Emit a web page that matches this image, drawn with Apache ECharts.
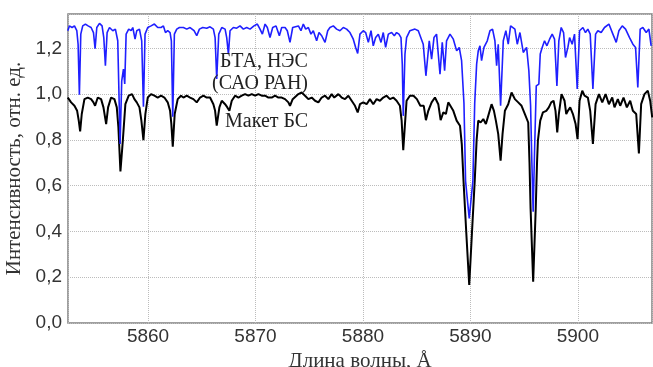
<!DOCTYPE html>
<html>
<head>
<meta charset="utf-8">
<script src="https://cdn.jsdelivr.net/npm/echarts@6/dist/echarts.min.js"></script>
<style>
  html, body { margin: 0; padding: 0; background: #fff; }
  #main { width: 653px; height: 367px; }
</style>
</head>
<body>
<div id="main"></div>
<script>
// БТА, НЭС (САО РАН) — длины волн и интенсивности
var blueWave = [5852.53,5852.68,5852.93,5853.15,5853.37,5853.49,5853.61,5853.74,5853.92,5854.17,5854.42,5854.70,5854.92,5855.07,5855.23,5855.48,5855.72,5855.88,5856.03,5856.19,5856.41,5856.72,5856.96,5857.18,5857.40,5857.55,5857.71,5857.83,5857.96,5858.20,5858.42,5858.58,5858.79,5858.95,5859.20,5859.41,5859.57,5859.72,5859.97,5860.28,5860.59,5860.90,5861.21,5861.43,5861.62,5861.83,5862.05,5862.17,5862.30,5862.45,5862.67,5862.92,5863.29,5863.60,5863.91,5864.28,5864.53,5864.78,5865.09,5865.46,5865.77,5866.08,5866.24,5866.39,5866.58,5866.86,5867.17,5867.32,5867.48,5867.63,5867.94,5868.25,5868.56,5868.87,5869.18,5869.49,5869.86,5870.17,5870.42,5870.64,5870.89,5871.10,5871.35,5871.60,5871.91,5872.22,5872.44,5872.75,5872.96,5873.21,5873.46,5873.99,5874.23,5874.45,5874.67,5874.92,5875.16,5875.38,5875.69,5875.91,5876.16,5876.47,5876.72,5876.93,5877.24,5877.55,5877.86,5878.17,5878.48,5878.79,5879.10,5879.32,5879.51,5879.72,5880.03,5880.25,5880.50,5880.75,5880.96,5881.18,5881.43,5881.68,5881.89,5882.11,5882.36,5882.67,5882.92,5883.13,5883.35,5883.54,5883.66,5883.75,5883.91,5884.06,5884.37,5884.84,5885.15,5885.61,5885.86,5886.17,5886.39,5886.61,5886.85,5887.17,5887.38,5887.60,5887.78,5888.10,5888.41,5888.72,5888.96,5889.18,5889.40,5889.55,5889.89,5890.23,5890.40,5890.58,5890.73,5890.89,5891.04,5891.26,5891.57,5891.82,5892.06,5892.28,5892.44,5892.59,5892.81,5893.06,5893.30,5893.52,5893.74,5894.14,5894.36,5894.61,5894.92,5895.23,5895.44,5895.60,5895.72,5895.84,5895.97,5896.13,5896.37,5896.50,5896.68,5896.90,5897.12,5897.37,5897.61,5897.83,5898.05,5898.23,5898.45,5898.67,5898.85,5899.07,5899.23,5899.47,5899.69,5899.94,5900.16,5900.47,5900.71,5900.93,5901.15,5901.40,5901.65,5901.86,5902.17,5902.48,5902.89,5903.26,5903.57,5903.82,5904.13,5904.44,5904.81,5905.12,5905.37,5905.58,5905.80,5906.05,5906.36,5906.61,5906.82];
var blueInt = [1.277,1.298,1.291,1.298,1.277,1.218,0.997,1.262,1.298,1.306,1.298,1.291,1.269,1.199,1.291,1.309,1.298,1.247,1.124,1.269,1.291,1.277,1.284,1.233,0.782,1.058,1.109,1.044,1.262,1.284,1.277,1.291,1.240,1.277,1.284,1.233,0.945,1.262,1.291,1.298,1.306,1.291,1.291,1.298,1.269,1.277,1.269,1.233,0.901,1.262,1.284,1.291,1.291,1.284,1.291,1.277,1.255,1.284,1.291,1.288,1.294,1.284,1.247,1.066,1.262,1.291,1.284,1.247,1.175,1.277,1.291,1.288,1.298,1.284,1.291,1.284,1.298,1.306,1.284,1.262,1.306,1.291,1.247,1.291,1.298,1.255,1.291,1.291,1.277,1.226,1.291,1.298,1.277,1.306,1.284,1.291,1.262,1.277,1.233,1.269,1.255,1.226,1.277,1.291,1.298,1.284,1.277,1.291,1.284,1.269,1.240,1.204,1.178,1.262,1.277,1.269,1.226,1.277,1.211,1.247,1.262,1.226,1.269,1.204,1.262,1.269,1.255,1.269,1.262,1.247,1.131,0.905,1.175,1.247,1.277,1.284,1.277,1.218,1.080,1.233,1.153,1.247,1.262,1.087,1.226,1.102,1.233,1.262,1.240,1.189,1.204,1.146,0.960,0.620,0.457,0.620,0.960,1.131,1.189,1.211,1.146,1.204,1.233,1.277,1.284,1.233,1.124,1.218,0.949,1.233,1.277,1.218,1.298,1.284,1.218,1.269,1.182,1.204,1.102,0.950,0.700,0.486,0.750,1.036,1.044,1.175,1.204,1.233,1.211,1.240,1.262,1.240,1.036,1.233,1.291,1.269,1.160,1.204,1.247,1.218,1.262,1.022,1.277,1.291,1.269,1.284,1.262,1.022,1.262,1.277,1.269,1.291,1.306,1.262,1.226,1.277,1.298,1.284,1.247,1.218,1.204,1.029,1.284,1.291,1.269,1.284,1.211];

// Макет БС
var blackWave = [5852.53,5852.84,5853.15,5853.40,5853.55,5853.68,5853.83,5854.08,5854.39,5854.70,5854.92,5855.07,5855.32,5855.63,5855.85,5856.10,5856.28,5856.56,5856.87,5857.09,5857.24,5857.43,5857.65,5857.89,5858.20,5858.51,5858.73,5858.95,5859.20,5859.38,5859.57,5859.75,5859.97,5860.28,5860.59,5860.90,5861.21,5861.52,5861.83,5862.05,5862.17,5862.30,5862.48,5862.76,5863.07,5863.29,5863.60,5863.91,5864.22,5864.53,5864.84,5865.15,5865.46,5865.77,5866.08,5866.24,5866.39,5866.64,5866.86,5867.17,5867.38,5867.57,5867.79,5868.10,5868.41,5868.72,5869.03,5869.34,5869.65,5869.96,5870.27,5870.58,5870.89,5871.20,5871.51,5871.82,5872.13,5872.44,5872.75,5873.06,5873.21,5873.46,5873.99,5874.30,5874.61,5874.92,5875.23,5875.54,5875.85,5876.16,5876.47,5876.78,5877.09,5877.33,5877.71,5878.02,5878.33,5878.64,5878.95,5879.26,5879.51,5879.72,5880.03,5880.34,5880.65,5880.96,5881.27,5881.58,5881.89,5882.20,5882.51,5882.82,5883.13,5883.44,5883.60,5883.75,5883.91,5884.06,5884.37,5884.70,5885.02,5885.34,5885.66,5885.86,5886.08,5886.39,5886.70,5887.01,5887.23,5887.48,5887.72,5887.94,5888.10,5888.41,5888.72,5889.03,5889.20,5889.36,5889.61,5889.89,5890.15,5890.40,5890.58,5890.73,5890.95,5891.20,5891.44,5891.66,5891.97,5892.19,5892.37,5892.59,5892.81,5892.99,5893.21,5893.52,5893.83,5894.14,5894.45,5894.76,5895.07,5895.38,5895.50,5895.60,5895.84,5896.08,5896.20,5896.28,5896.50,5896.75,5897.06,5897.30,5897.52,5897.74,5897.92,5898.08,5898.23,5898.48,5898.76,5898.92,5899.07,5899.29,5899.54,5899.79,5899.97,5900.16,5900.41,5900.62,5900.93,5901.15,5901.40,5901.65,5901.96,5902.27,5902.58,5902.89,5903.20,5903.41,5903.72,5903.94,5904.25,5904.56,5904.87,5905.12,5905.43,5905.68,5905.89,5906.20,5906.51,5906.73,5906.92];
var blackInt = [0.985,0.964,0.949,0.927,0.884,0.837,0.913,0.978,0.985,0.978,0.964,0.949,0.985,0.978,0.942,0.869,0.942,0.985,0.978,0.942,0.854,0.662,0.796,0.956,0.993,1.000,0.978,0.964,0.942,0.884,0.799,0.913,0.985,1.000,0.993,0.985,0.993,0.985,0.964,0.927,0.869,0.770,0.913,0.978,0.993,0.985,0.993,0.985,0.978,0.964,0.985,0.993,0.985,0.985,0.956,0.927,0.862,0.942,0.971,0.956,0.942,0.927,0.971,0.993,0.985,0.993,1.000,0.993,1.000,0.993,1.000,0.993,0.993,0.985,0.985,0.993,0.985,0.985,0.978,0.964,0.949,0.978,1.000,1.007,0.993,0.978,0.985,0.971,0.964,0.985,0.993,0.978,1.000,0.985,1.000,0.985,0.978,0.993,0.971,0.949,0.920,0.956,0.964,0.956,0.978,0.956,0.978,0.971,0.985,0.993,0.978,0.985,0.971,0.949,0.884,0.755,0.869,0.971,0.993,0.993,0.978,0.949,0.949,0.886,0.927,0.964,0.985,0.956,0.886,0.920,0.913,0.964,0.971,0.927,0.884,0.862,0.780,0.620,0.400,0.166,0.400,0.620,0.800,0.884,0.876,0.891,0.869,0.905,0.956,0.927,0.884,0.825,0.709,0.825,0.927,0.956,1.007,0.978,0.964,0.949,0.913,0.876,0.700,0.500,0.180,0.500,0.700,0.796,0.884,0.920,0.927,0.942,0.964,0.971,0.927,0.833,0.913,1.000,0.971,0.913,0.927,0.942,0.913,0.869,0.803,0.971,1.015,0.993,0.985,0.927,0.782,0.956,1.000,0.964,1.000,0.956,0.985,0.942,0.978,0.949,0.985,0.942,0.971,0.927,0.913,0.741,0.956,1.000,1.015,0.971,0.898];

function pairs(xs, ys) {
  return xs.map(function (x, i) { return [x, ys[i]]; });
}

var myChart = echarts.init(document.getElementById('main'));

var serif = '"Liberation Serif", "DejaVu Serif", serif';
var sans = '"Liberation Sans", Arial, sans-serif';

var option = {
  animation: false,
  grid: {
    left: 68, right: 1, top: 14, bottom: 44,
    outerBoundsMode: 'none',
    containLabel: false,
    show: true, borderColor: '#808080', borderWidth: 1.5, backgroundColor: '#fff'
  },
  xAxis: {
    type: 'value',
    min: 5852.55,
    max: 5906.9,
    splitNumber: 5,
    name: 'Длина волны, Å',
    nameLocation: 'middle',
    nameGap: 25,
    nameTextStyle: { fontFamily: serif, fontSize: 21, color: '#333' },
    axisLine: { show: false },
    axisTick: { show: false },
    axisLabel: {
      fontFamily: sans, fontSize: 19, color: '#333', margin: 4,
      showMinLabel: false, showMaxLabel: false,
      formatter: function (v) { return String(v); }
    },
    splitLine: { show: true, lineStyle: { type: 'dotted', color: '#bcbcbc', width: 1 } }
  },
  yAxis: {
    type: 'value',
    min: 0,
    max: 1.35,
    interval: 0.2,
    name: 'Интенсивность, отн. ед.',
    nameLocation: 'middle',
    nameGap: 38,
    nameTextStyle: { fontFamily: serif, fontSize: 21, color: '#333' },
    axisLine: { show: false },
    axisTick: { show: false },
    axisLabel: {
      fontFamily: sans, fontSize: 19, color: '#333', margin: 6,
      showMaxLabel: false,
      formatter: function (v) { return v.toFixed(1).replace('.', ','); }
    },
    splitLine: { show: true, lineStyle: { type: 'dotted', color: '#bcbcbc', width: 1 } }
  },
  series: [
    {
      name: 'Макет БС',
      type: 'line',
      data: pairs(blackWave, blackInt),
      showSymbol: false,
      clip: true,
      lineStyle: { color: '#000', width: 2 },
      z: 2
    },
    {
      name: 'БТА, НЭС (САО РАН)',
      type: 'line',
      data: pairs(blueWave, blueInt),
      showSymbol: false,
      clip: true,
      lineStyle: { color: '#1f1fff', width: 1.6 },
      z: 3
    }
  ],
  graphic: [
    { type: 'text', left: 220, top: 52, z: 10,
      style: { text: 'БТА, НЭС', font: '20px ' + serif, fill: '#222' } },
    { type: 'text', left: 212, top: 74, z: 10,
      style: { text: '(САО РАН)', font: '20px ' + serif, fill: '#222' } },
    { type: 'text', left: 225, top: 112, z: 10,
      style: { text: 'Макет БС', font: '20px ' + serif, fill: '#222' } }
  ]
};

myChart.setOption(option);
</script>
</body>
</html>
